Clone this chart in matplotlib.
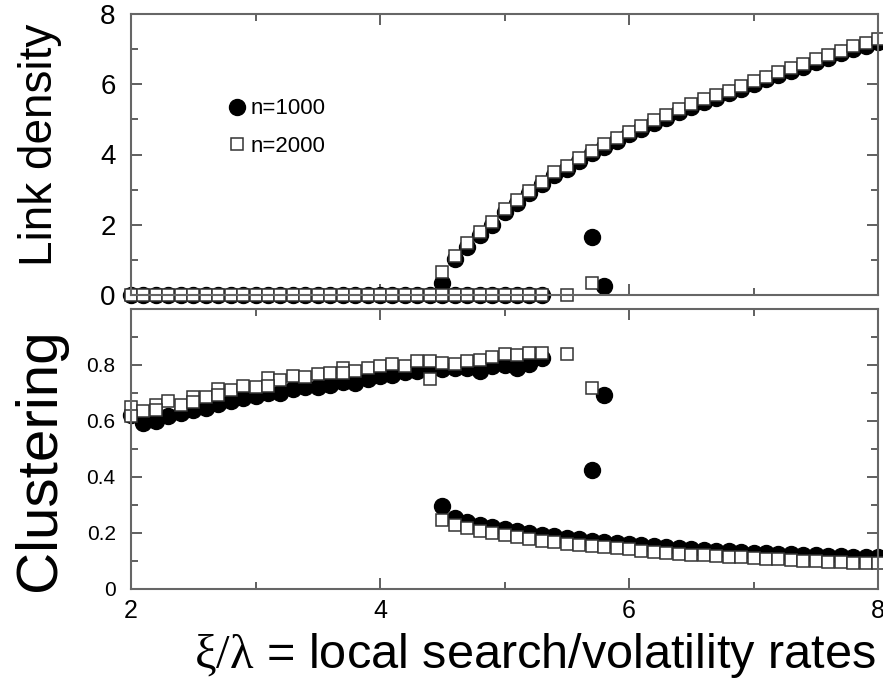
import matplotlib
matplotlib.use("Agg")
from matplotlib import pyplot as plt
from matplotlib.ticker import MultipleLocator

plt.rcParams['font.family'] = ['Liberation Sans', 'DejaVu Sans']
plt.rcParams['mathtext.fontset'] = 'custom'
plt.rcParams['mathtext.rm'] = 'Liberation Serif'

# x grids (xi/lambda)
x_low = [2.0, 2.1, 2.2, 2.3, 2.4, 2.5, 2.6, 2.7, 2.8, 2.9, 3.0, 3.1, 3.2, 3.3, 3.4, 3.5, 3.6,
         3.7, 3.8, 3.9, 4.0, 4.1, 4.2, 4.3, 4.4, 4.5, 4.6, 4.7, 4.8, 4.9, 5.0, 5.1, 5.2, 5.3]
x_high = [4.5, 4.6, 4.7, 4.8, 4.9, 5.0, 5.1, 5.2, 5.3, 5.4, 5.5, 5.6, 5.7, 5.8, 5.9, 6.0, 6.1, 6.2,
          6.3, 6.4, 6.5, 6.6, 6.7, 6.8, 6.9, 7.0, 7.1, 7.2, 7.3, 7.4, 7.5, 7.6, 7.7, 7.8, 7.9, 8.0]

# link density, sparse branch (all zero)
dens_low_1000 = [0.0] * 34
dens_low_2000 = [0.0] * 34
# link density, dense branch
dens_high_1000 = [0.33, 1.02, 1.38, 1.71, 2.00, 2.36, 2.63, 2.89, 3.15, 3.41, 3.60, 3.81,
                  4.03, 4.22, 4.38, 4.57, 4.73, 4.91, 5.05, 5.22, 5.36, 5.50, 5.62, 5.74,
                  5.87, 6.02, 6.14, 6.27, 6.39, 6.50, 6.63, 6.76, 6.88, 7.00, 7.09, 7.20]
dens_high_2000 = [0.66, 1.11, 1.47, 1.80, 2.09, 2.44, 2.71, 2.97, 3.23, 3.49, 3.68, 3.89,
                  4.11, 4.30, 4.46, 4.65, 4.81, 4.99, 5.13, 5.30, 5.44, 5.58, 5.70, 5.82,
                  5.95, 6.10, 6.22, 6.35, 6.47, 6.58, 6.71, 6.84, 6.96, 7.08, 7.17, 7.28]
# odd runs near the transition
x_odd_1000 = [5.7, 5.8]
dens_odd_1000 = [1.65, 0.26]
clus_odd_1000 = [0.425, 0.693]
x_odd_2000 = [5.5, 5.7]
dens_odd_2000 = [0.0, 0.35]
clus_odd_2000 = [0.838, 0.717]

# clustering, sparse branch
clus_low_1000 = [0.620, 0.594, 0.600, 0.618, 0.630, 0.640, 0.645, 0.660, 0.670, 0.682, 0.690,
                 0.700, 0.700, 0.715, 0.720, 0.720, 0.730, 0.740, 0.735, 0.750, 0.760, 0.765,
                 0.775, 0.780, 0.785, 0.785, 0.790, 0.790, 0.780, 0.795, 0.800, 0.790, 0.805, 0.825]
clus_low_2000 = [0.651, 0.636, 0.658, 0.670, 0.658, 0.685, 0.687, 0.715, 0.712, 0.725, 0.723,
                 0.755, 0.745, 0.761, 0.756, 0.769, 0.770, 0.789, 0.777, 0.789, 0.796, 0.804,
                 0.796, 0.814, 0.815, 0.808, 0.804, 0.813, 0.818, 0.827, 0.839, 0.836, 0.842, 0.842]
# second runs of n=2000 at a few points
x_rep_2000 = [2.0, 2.2, 2.5, 2.7, 3.1, 3.7, 4.4]
clus_rep_2000 = [0.618, 0.639, 0.668, 0.694, 0.725, 0.770, 0.749]
# clustering, dense branch
clus_high_1000 = [0.298, 0.252, 0.240, 0.230, 0.222, 0.214, 0.207, 0.200, 0.194, 0.188, 0.182,
                  0.177, 0.173, 0.168, 0.164, 0.160, 0.156, 0.152, 0.149, 0.146, 0.143, 0.140,
                  0.137, 0.135, 0.132, 0.130, 0.128, 0.126, 0.124, 0.122, 0.120, 0.119, 0.117,
                  0.116, 0.115, 0.114]
clus_high_2000 = [0.246, 0.229, 0.217, 0.208, 0.199, 0.193, 0.187, 0.179, 0.173, 0.167, 0.161,
                  0.157, 0.154, 0.149, 0.145, 0.142, 0.137, 0.133, 0.130, 0.125, 0.121, 0.121,
                  0.118, 0.115, 0.113, 0.110, 0.106, 0.106, 0.104, 0.100, 0.100, 0.098, 0.095,
                  0.094, 0.092, 0.092]

circ = dict(ls='none', marker='o', ms=11.5, mfc='black', mec='black', clip_on=False)
sq = dict(ls='none', marker='s', ms=9, mfc='white', mec='#333333', mew=1.1, clip_on=False)
spine_col = '#666666'

fig = plt.figure(figsize=(8.83, 6.85), dpi=100)
ax1 = fig.add_axes([131/883, 1-295/685, 747/883, 281/685])
ax2 = fig.add_axes([131/883, 1-589/685, 747/883, 280/685])

# top: link density
ax1.plot(x_low, dens_low_1000, **circ)
ax1.plot(x_high, dens_high_1000, **circ)
ax1.plot(x_odd_1000, dens_odd_1000, label='n=1000', **circ)
ax1.plot(x_low, dens_low_2000, **sq)
ax1.plot(x_high, dens_high_2000, **sq)
ax1.plot(x_odd_2000, dens_odd_2000, label='n=2000', **sq)

# bottom: clustering
ax2.plot(x_low, clus_low_1000, **circ)
ax2.plot(x_high, clus_high_1000, **circ)
ax2.plot(x_odd_1000, clus_odd_1000, **circ)
ax2.plot(x_low, clus_low_2000, **sq)
ax2.plot(x_rep_2000, clus_rep_2000, **sq)
ax2.plot(x_high, clus_high_2000, **sq)
ax2.plot(x_odd_2000, clus_odd_2000, **sq)

for ax in (ax1, ax2):
    ax.set_xlim(2, 8)
    ax.xaxis.set_major_locator(MultipleLocator(2))
    ax.xaxis.set_minor_locator(MultipleLocator(1))
    ax.tick_params(which='both', direction='in', top=True, right=True,
                   color='#444444', width=1.2)
    ax.tick_params(which='major', length=8)
    ax.tick_params(which='minor', length=5)
    for s in ax.spines.values():
        s.set_color(spine_col)
        s.set_linewidth(1.5)

ax1.set_ylim(0, 8)
ax1.yaxis.set_major_locator(MultipleLocator(2))
ax1.yaxis.set_minor_locator(MultipleLocator(1))
ax1.tick_params(axis='x', labelbottom=False)
ax1.tick_params(axis='y', labelsize=20, pad=11)

ax2.set_ylim(0, 1)
ax2.set_yticks([0, 0.2, 0.4, 0.6, 0.8, 1.0])
ax2.set_yticklabels(['0', '0.2', '0.4', '0.6', '0.8', ''])
ax2.yaxis.set_minor_locator(MultipleLocator(0.1))
ax2.tick_params(axis='y', labelsize=15, pad=11)
ax2.set_xticks([2, 4, 6, 8])
ax2.set_xticklabels(['2', '4', '6', '8'])
ax2.tick_params(axis='x', labelsize=18, pad=7)

ax1.legend(loc='upper left', bbox_to_anchor=(0.13, 0.70), frameon=False,
           fontsize=16, handlelength=0.8, handletextpad=0.2, labelspacing=0.75,
           borderpad=0, borderaxespad=0)

fig.text(40/883, 1-145/685, 'Link density', rotation=90, ha='center', va='center', fontsize=33)
fig.text(40/883, 1-460/685, 'Clustering', rotation=90, ha='center', va='center', fontsize=42)
fig.text(535/883, 1-655/685, '$\\mathrm{ξ/λ}$ = local search/volatility rates',
         ha='center', va='center', fontsize=35)

fig.savefig('out.png', dpi=100)
